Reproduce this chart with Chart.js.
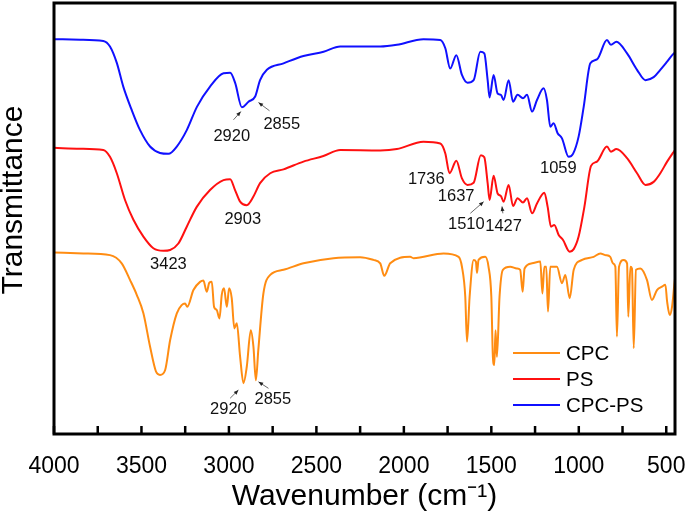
<!DOCTYPE html>
<html>
<head>
<meta charset="utf-8">
<script src="https://cdn.jsdelivr.net/npm/chart.js@4.4.0/dist/chart.umd.min.js"></script>
<style>
  body { margin: 0; background: #fff; }
  canvas { display: block; }
</style>
</head>
<body>
<canvas id="ftir" width="685" height="525"></canvas>
<script>
// wavenumber (cm-1) and offset transmittance (a.u.)
const cpcWave = [4000,3832,3680,3613,3565,3527,3489,3451,3417,3394, 3365,3336,3298,3270,3251,3238,3203,3165,3146,3127,
  3112,3098,3085,3070,3054,3041,3028,3012,2999,2984, 2969,2955,2936,2917,2898,2875,2860,2846,2832,2803,
  2764,2688,2574,2402,2250,2174,2135,2112,2078,1964, 1945,1773,1687,1668,1649,1639,1624,1601,1588,1582,
  1573,1535,1516,1500,1491,1483,1476,1468,1453,1434, 1392,1354,1335,1321,1310,1267,1220,1208,1197,1186,
  1176,1163,1125,1096,1077,1052,1029,981,915,877, 848,820,805,791,782,770,743,724,717,705,
  696,686,673,648,610,582,553,524,505,495, 480,467,454,450];
const cpcT = [42.1,41.9,41.5,39.6,35.7,32.3,28.0,20.3,14.5,13.7, 14.8,21.8,28.0,29.9,30.3,29.5,33.4,35.3,35.6,33.0,
  35.1,35.3,29.5,28.8,26.8,32.3,33.8,29.5,33.8,31.5, 24.5,25.7,17.9,11.8,15.6,24.1,20.3,12.5,19.5,32.6,
  36.9,38.1,39.6,40.8,41.0,40.4,39.6,36.7,39.6,41.1, 40.8,41.9,41.1,38.8,31.9,21.4,31.9,40.4,40.0,37.4,
  40.4,41.1,38.8,31.9,17.9,16.0,24.1,17.9,31.9,38.1, 38.8,38.4,38.1,33.0,38.4,39.6,40.0,32.6,38.8,38.8,
  28.4,38.8,38.8,35.0,36.9,31.5,38.1,40.4,41.1,41.9, 41.5,41.1,39.6,38.8,22.6,38.8,40.4,39.6,27.2,38.8,
  38.4,19.9,38.1,38.4,35.7,31.1,33.4,34.2,34.6,30.7, 27.6,29.5,34.6,36.0];

const psWave = [4000,3850,3718,3680,3641,3594,3546,3489,3432,3375, 3336,3289,3241,3184,3108,3031,2993,2965,2936,2898,
  2860,2822,2764,2688,2574,2460,2364,2135,2040,1888, 1792,1763,1739,1700,1668,1636,1601,1560,1540,1521,
  1510,1487,1464,1445,1430,1401,1376,1350,1319,1296, 1267,1239,1197,1178,1159,1140,1115,1090,1052,1029,
  1001,968,930,896,839,816,785,724,667,619, 572,534,495,457,450];
const psT = [66.4,66.2,65.9,64.3,60.5,54.3,49.7,45.8,43.1,42.5, 42.7,44.2,48.1,52.7,56.6,58.9,59.1,56.6,53.9,53.1,
  55.1,58.2,60.5,61.4,63.2,64.5,65.9,65.8,66.1,67.8, 67.4,65.1,60.5,63.4,59.3,57.8,58.3,64.7,64.2,58.2,
  54.3,59.9,55.8,55.2,53.9,57.8,52.9,54.7,53.7,54.7, 51.2,53.5,56.0,52.7,48.1,48.5,46.2,45.0,42.3,42.9,
  45.8,52.7,62.2,63.2,66.7,65.5,66.1,64.0,60.5,57.8, 58.5,60.5,63.2,65.5,65.9];

const cpcpsWave = [4000,3850,3718,3680,3641,3604,3556,3508,3451,3394, 3346,3298,3241,3183,3108,3031,2993,2964,2926,2888,
  2850,2822,2783,2688,2574,2459,2364,2135,2040,1888, 1792,1763,1735,1700,1668,1636,1601,1563,1540,1521,
  1510,1487,1464,1445,1430,1401,1376,1350,1319,1296, 1267,1239,1201,1182,1163,1144,1121,1096,1058,1033,
  1001,972,934,896,839,816,785,724,667,619, 572,534,495,457,450];
const cpcpsT = [91.6,91.5,91.2,89.9,86.1,80.6,75.2,70.5,66.7,65.2, 65.0,66.7,70.5,75.9,80.6,83.7,83.8,81.4,75.8,77.1,
  78.3,82.1,84.5,86.0,87.7,88.7,89.9,89.9,90.3,91.6, 91.4,89.5,84.8,87.9,83.3,81.5,82.1,88.7,88.3,82.1,
  78.1,83.3,79.0,78.7,77.5,82.1,77.1,78.7,77.9,78.7, 74.8,77.5,80.2,77.5,71.3,72.1,69.8,68.6,64.3,65.0,
  69.0,75.9,86.0,86.9,91.4,90.3,91.0,88.3,84.5,82.1, 82.8,84.5,86.4,88.3,88.4];

const xTicks = [4000,3750,3500,3250,3000,2750,2500,2250,2000,1750,1500,1250,1000,750,500];

// peak labels: [text, wavenumber, transmittance]
const peakLabels = [
  ["2920", 2984, 69.0], ["2855", 2698, 71.9], ["1059", 1117, 61.7],
  ["2903", 2921, 49.8], ["3423", 3346, 39.4], ["1736", 1872, 59.1],
  ["1637", 1701, 55.2], ["1510", 1643, 48.7], ["1427", 1430, 48.1],
  ["2920", 3003, 5.6], ["2855", 2749, 7.9]
];
// arrows: [fromWave, fromT, toWave, toT]
const peakArrows = [
  [2974, 72.9, 2932, 74.8], [2768, 75.0, 2831, 76.9],
  [1620, 51.2, 1544, 53.9], [1434, 51.2, 1439, 52.8],
  [2993, 8.3, 2946, 10.2], [2774, 10.6, 2831, 12.1]
];

const FONT = "'Liberation Sans', Arial, Helvetica, sans-serif";
Chart.defaults.font.family = FONT;
Chart.defaults.color = "#000";

function toPoints(xs, ys) {
  return xs.map((x, i) => ({ x: x, y: ys[i] }));
}

const decorPlugin = {
  id: "decor",
  afterDatasetsDraw(chart) {
    const ctx = chart.ctx;
    const area = chart.chartArea;
    const xs = chart.scales.x;
    const ys = chart.scales.y;

    ctx.save();
    // peak labels
    ctx.fillStyle = "#111";
    ctx.font = "16.5px " + FONT;
    ctx.textAlign = "center";
    ctx.textBaseline = "middle";
    peakLabels.forEach(l => {
      ctx.fillText(l[0], xs.getPixelForValue(l[1]), ys.getPixelForValue(l[2]));
    });

    // small arrows
    ctx.strokeStyle = "#444";
    ctx.fillStyle = "#222";
    ctx.lineWidth = 0.8;
    peakArrows.forEach(a => {
      const x1 = xs.getPixelForValue(a[0]), y1 = ys.getPixelForValue(a[1]);
      const x2 = xs.getPixelForValue(a[2]), y2 = ys.getPixelForValue(a[3]);
      const ang = Math.atan2(y2 - y1, x2 - x1);
      ctx.beginPath();
      ctx.moveTo(x1, y1);
      ctx.lineTo(x2, y2);
      ctx.stroke();
      ctx.beginPath();
      ctx.moveTo(x2, y2);
      ctx.lineTo(x2 - 5 * Math.cos(ang - 0.4), y2 - 5 * Math.sin(ang - 0.4));
      ctx.lineTo(x2 - 5 * Math.cos(ang + 0.4), y2 - 5 * Math.sin(ang + 0.4));
      ctx.closePath();
      ctx.fill();
    });

    // legend
    ctx.font = "20.5px " + FONT;
    ctx.textAlign = "left";
    chart.data.datasets.forEach((ds, i) => {
      const y = 353 + i * 26;
      ctx.strokeStyle = ds.borderColor;
      ctx.lineWidth = 2;
      ctx.beginPath();
      ctx.moveTo(513, y);
      ctx.lineTo(560, y);
      ctx.stroke();
      ctx.fillStyle = "#000";
      ctx.fillText(ds.label, 566, y + 1);
    });

    // y axis title (sits a bit above the middle in the original)
    ctx.save();
    ctx.translate(14, 200);
    ctx.rotate(-Math.PI / 2);
    ctx.font = "30px " + FONT;
    ctx.textAlign = "center";
    ctx.fillText("Transmittance", 0, 0);
    ctx.restore();

    // inward ticks on the bottom axis
    ctx.strokeStyle = "#000";
    ctx.lineWidth = 2.5;
    xTicks.forEach(v => {
      const px = xs.getPixelForValue(v);
      ctx.beginPath();
      ctx.moveTo(px, area.bottom);
      ctx.lineTo(px, area.bottom - 8);
      ctx.stroke();
    });

    // frame
    ctx.lineWidth = 3;
    ctx.strokeRect(area.left, area.top, area.right - area.left, area.bottom - area.top);
    ctx.restore();
  }
};

new Chart(document.getElementById("ftir"), {
  type: "line",
  data: {
    datasets: [
      { label: "CPC", data: toPoints(cpcWave, cpcT), borderColor: "#ff8c12" },
      { label: "PS", data: toPoints(psWave, psT), borderColor: "#ff1010" },
      { label: "CPC-PS", data: toPoints(cpcpsWave, cpcpsT), borderColor: "#1010ff" }
    ]
  },
  options: {
    responsive: false,
    animation: false,
    layout: { padding: { top: 3, right: 10, left: 0, bottom: 0 } },
    elements: {
      point: { radius: 0 },
      line: { borderWidth: 2, cubicInterpolationMode: "monotone" }
    },
    plugins: {
      legend: { display: false },
      tooltip: { enabled: false }
    },
    scales: {
      x: {
        type: "linear",
        reverse: true,
        min: 450,
        max: 4000,
        afterBuildTicks: s => { s.ticks = xTicks.map(v => ({ value: v })); },
        afterFit: s => { s.height = 91; s.paddingLeft = 0; s.paddingRight = 0; },
        grid: { display: false },
        border: { display: false },
        ticks: {
          autoSkip: false,
          maxRotation: 0,
          padding: 11,
          font: { size: 23 },
          callback: v => (v % 500 === 0 ? String(v) : "")
        },
        title: {
          display: true,
          text: "Wavenumber (cm\u207B\u00B9)",
          font: { size: 30 },
          padding: { top: 0, bottom: 10 }
        }
      },
      y: {
        min: 0,
        max: 100,
        afterFit: s => { s.width = 54; s.paddingTop = 0; s.paddingBottom = 0; },
        grid: { display: false },
        border: { display: false },
        ticks: { display: false },
        title: { display: false }
      }
    }
  },
  plugins: [decorPlugin]
});
</script>
</body>
</html>
